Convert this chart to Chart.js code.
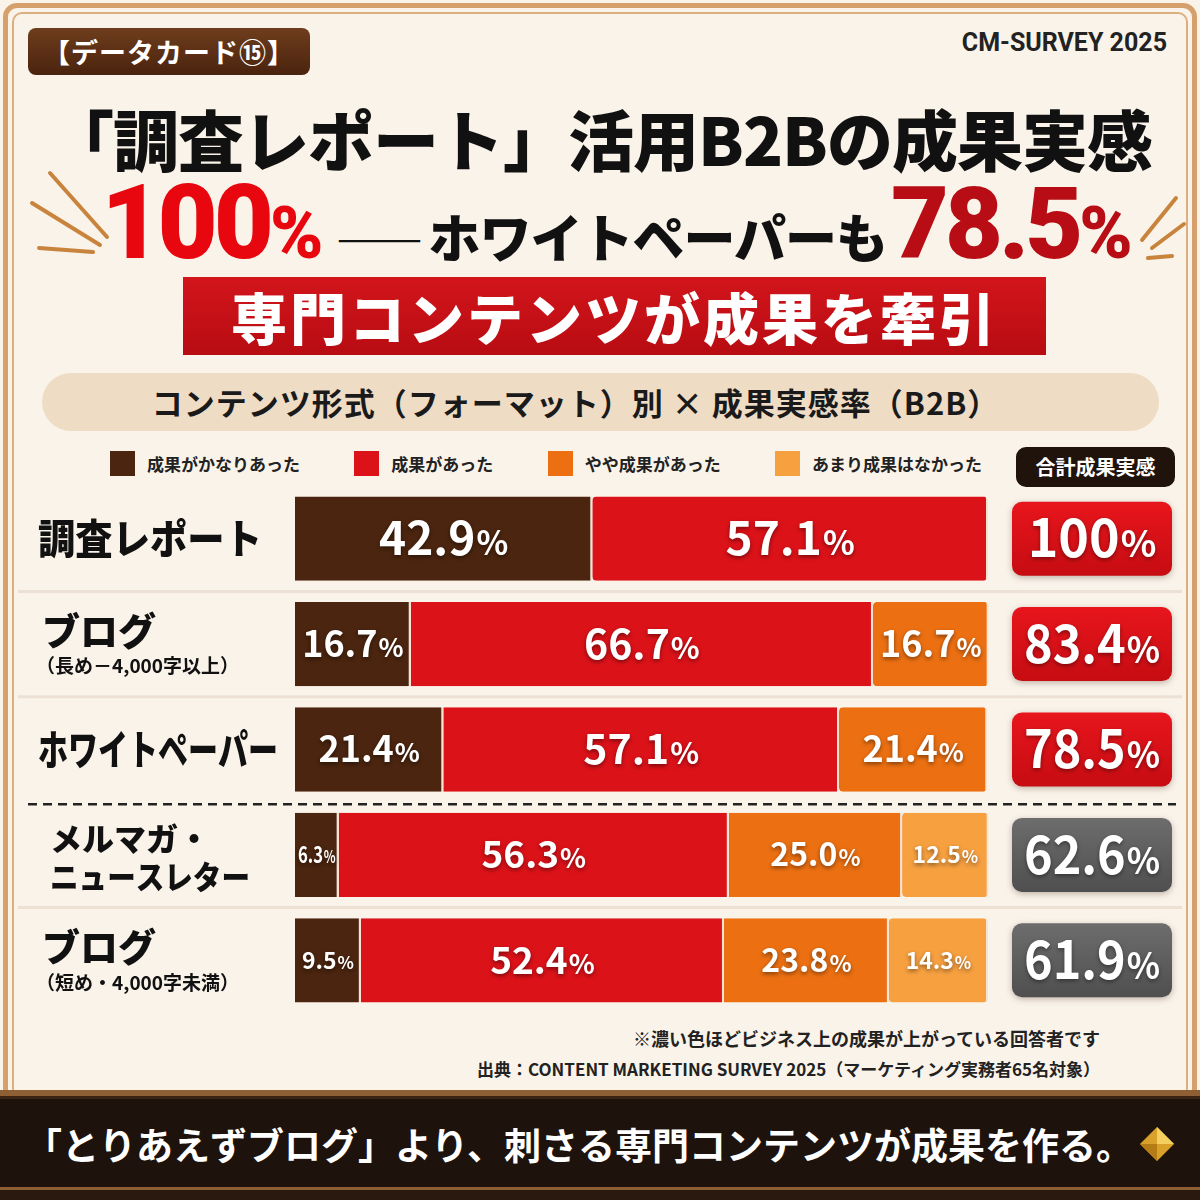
<!DOCTYPE html>
<html lang="ja">
<head>
  <meta charset="UTF-8">
  <title>「調査レポート」活用B2Bの成果実感</title>
  <style>
    body {
      margin: 0;
      width: 1200px;
      height: 1200px;
      position: relative;
      overflow: hidden;
      background: #faf3ea;
      font-family: "Noto Sans CJK JP", sans-serif;
      color: #111;
    }

    .frame {
      position: absolute;
      left: 3px; top: 3px; right: 3px; bottom: 3px;
      border: 5px solid #d6a06c;
      border-radius: 14px;
    }

    .frame-in {
      position: absolute;
      left: 12px; top: 12px; right: 12px; bottom: 12px;
      border: 2px solid #dcae80;
      border-radius: 10px;
    }

    .badge {
      position: absolute;
      left: 28px; top: 28px;
      width: 282px; height: 47px;
      background: linear-gradient(to bottom, #6e3d1d, #4a230e);
      border-radius: 8px;
      color: #fff;
      font-size: 27px;
      font-weight: 700;
      line-height: 47px;
      text-align: center;
      letter-spacing: 1px;
    }

    .brand {
      position: absolute;
      right: 33px; top: 28px;
      font-family: Roboto, sans-serif;
      font-size: 25px;
      font-weight: 700;
      color: #222;
    }

    .title1 {
      position: absolute;
      left: 0; right: 0; top: 101px;
      text-align: center;
      font-size: 66px;
      font-weight: 900;
      line-height: 72px;
      letter-spacing: -1px;
    }

    .title2 {
      position: absolute;
      left: 0; right: 0; top: 168px;
      height: 110px;
      padding-left: 34px;
      display: flex;
      justify-content: center;
      align-items: baseline;
      font-weight: 900;
      line-height: 110px;
    }

    .big {
      font-family: Roboto, sans-serif;
      font-size: 104px;
      letter-spacing: -4px;
      color: #e8070f;
    }

    .big.dark { color: #b80d14; font-size: 100px; }
    .big small { font-size: 72px; letter-spacing: 0; }

    .mid {
      font-size: 52px;
      margin: 0 4px 0 12px;
      letter-spacing: -1px;
    }

    .dash {
      font-size: 44px;
      margin-right: 6px;
    }

    .banner {
      position: absolute;
      left: 183px; top: 277px;
      width: 863px; height: 78px;
      background: linear-gradient(to bottom, #d2151b, #b70c12);
      color: #fff;
      font-size: 56px;
      font-weight: 900;
      line-height: 78px;
      text-align: center;
      letter-spacing: 3px;
    }

    .rays {
      position: absolute;
      left: 0; top: 0;
    }

    .subtitle {
      position: absolute;
      left: 42px; top: 373px;
      width: 1117px; height: 58px;
      padding-right: 50px;
      box-sizing: border-box;
      background: #efdcc4;
      border-radius: 29px;
      font-size: 31px;
      font-weight: 700;
      line-height: 58px;
      text-align: center;
      letter-spacing: 1px;
      color: #1a1a1a;
    }

    #legend {
      position: absolute;
      left: 110px; top: 451px;
      width: 872px;
      display: flex;
      justify-content: space-between;
    }

    .legend-item {
      display: flex;
      align-items: center;
      font-size: 17px;
      font-weight: 700;
      color: #222;
    }

    .legend-item span {
      display: inline-block;
      width: 25px; height: 25px;
      margin-right: 12px;
    }

    .total-head {
      position: absolute;
      left: 1016px; top: 447px;
      width: 159px; height: 40px;
      background: #1f130c;
      border-radius: 10px;
      color: #fff;
      font-size: 20px;
      font-weight: 700;
      line-height: 40px;
      text-align: center;
    }

    #chart {
      position: absolute;
      left: 0; top: 486px;
    }

    .note {
      position: absolute;
      right: 100px;
      text-align: right;
      font-weight: 700;
      color: #222;
    }

    .footer {
      position: absolute;
      left: 0; right: 0; top: 1090px; bottom: 0;
      background: #1d120c;
      border-top: 6px solid #8e5e34;
      box-shadow: inset 0 3px 0 #3b2414, inset 0 -10px 0 #2a190f, inset 0 -13px 0 #8e5e34;
      display: flex;
      justify-content: center;
      align-items: center;
      padding-bottom: 8px;
      box-sizing: border-box;
      color: #fff;
      font-size: 37px;
      font-weight: 700;
    }

    .footer svg { margin-left: 6px; }
  </style>
</head>
<body>
  <div class="frame"></div>
  <div class="frame-in"></div>

  <div class="badge">【データカード⑮】</div>
  <div class="brand">CM-SURVEY 2025</div>

  <div class="title1">「調査レポート」活用B2Bの成果実感</div>
  <div class="title2">
    <span class="big">100<small>%</small></span>
    <span class="mid"><span class="dash">——</span>ホワイトペーパーも</span>
    <span class="big dark">78.5<small>%</small></span>
  </div>

  <svg class="rays" width="1200" height="300">
    <g stroke="#c8843c" stroke-width="4" stroke-linecap="round">
      <line x1="50" y1="173" x2="107" y2="237" />
      <line x1="32" y1="203" x2="100" y2="245" />
      <line x1="39" y1="248" x2="93" y2="252" />
      <line x1="1176" y1="198" x2="1142" y2="240" />
      <line x1="1184" y1="224" x2="1152" y2="248" />
      <line x1="1148" y1="258" x2="1172" y2="256" />
    </g>
  </svg>

  <div class="banner">専門コンテンツが成果を牽引</div>

  <div class="subtitle">コンテンツ形式（フォーマット）別 × 成果実感率（B2B）</div>

  <div id="legend"></div>
  <div class="total-head">合計成果実感</div>

  <canvas id="chart" width="1200" height="527"></canvas>

  <div class="note" style="top: 1025px; font-size: 18px;">※濃い色ほどビジネス上の成果が上がっている回答者です</div>
  <div class="note" style="top: 1056px; font-size: 17px;">出典：CONTENT MARKETING SURVEY 2025（マーケティング実務者65名対象）</div>

  <div class="footer">
    「とりあえずブログ」より、刺さる専門コンテンツが成果を作る。
    <svg width="36" height="36" viewBox="0 0 36 36">
      <polygon points="18,1 35,18 18,35 1,18" fill="#d9a12a" />
      <polygon points="18,1 35,18 18,18" fill="#f3cf5e" />
      <polygon points="18,18 18,35 1,18" fill="#b57c16" />
    </svg>
  </div>

  <script src="https://cdn.jsdelivr.net/npm/chart.js"></script>
  <script>
    // コンテンツ形式
    const categoryLines = [['調査レポート'], ['ブログ'], ['ホワイトペーパー'], ['メルマガ・', 'ニュースレター'], ['ブログ']];
    const categoryNotes = ['', '（長め－4,000字以上）', '', '', '（短め・4,000字未満）'];

    // 回答の内訳 (%)
    const seriesNames = ['成果がかなりあった', '成果があった', 'やや成果があった', 'あまり成果はなかった'];
    const veryEffective = [42.9, 16.7, 21.4, 6.3, 9.5];
    const effective = [57.1, 66.7, 57.1, 56.3, 52.4];
    const somewhatEffective = [null, 16.7, 21.4, 25.0, 23.8];
    const notEffective = [null, null, null, 12.5, 14.3];

    // 合計成果実感 (%)
    const totalEffect = [100, 83.4, 78.5, 62.6, 61.9];

    const seriesColors = ['#4b250f', '#dc1219', '#ec7012', '#f6a040'];
    const FONT = '"Noto Sans CJK JP", sans-serif';

    // HTML legend
    const legend = document.getElementById('legend');
    seriesNames.forEach((name, i) => {
      const item = document.createElement('div');
      item.className = 'legend-item';
      const box = document.createElement('span');
      box.style.background = seriesColors[i];
      item.appendChild(box);
      item.appendChild(document.createTextNode(name));
      legend.appendChild(item);
    });

    // number + smaller "%" centred at (cx, cy)
    function drawPercent(ctx, text, cx, cy, size, maxW) {
      const pSize = Math.round(size * 0.72);
      ctx.font = `700 ${size}px ${FONT}`;
      const wNum = ctx.measureText(text).width;
      ctx.font = `700 ${pSize}px ${FONT}`;
      const wPct = ctx.measureText('%').width;
      const total = wNum + wPct + 1;
      const k = total > maxW ? maxW / total : 1;
      ctx.save();
      ctx.translate(cx, cy + size * 0.36);
      ctx.scale(k, 1);
      ctx.textAlign = 'left';
      ctx.textBaseline = 'alphabetic';
      ctx.font = `700 ${size}px ${FONT}`;
      ctx.fillText(text, -total / 2, 0);
      ctx.font = `700 ${pSize}px ${FONT}`;
      ctx.fillText('%', -total / 2 + wNum + 1, 0);
      ctx.restore();
    }

    const decorPlugin = {
      id: 'decor',
      beforeDatasetsDraw(chart) {
        const { ctx, scales: { y } } = chart;
        ctx.save();
        for (let i = 0; i < categoryLines.length - 1; i++) {
          const mid = (y.getPixelForValue(i) + y.getPixelForValue(i + 1)) / 2;
          ctx.beginPath();
          if (i === 2) {
            ctx.setLineDash([9, 6]);
            ctx.strokeStyle = '#222';
            ctx.lineWidth = 2.5;
            ctx.moveTo(28, mid + 2);
            ctx.lineTo(1176, mid + 2);
          } else {
            ctx.setLineDash([]);
            ctx.strokeStyle = 'rgba(170, 130, 95, 0.15)';
            ctx.lineWidth = 3;
            ctx.moveTo(18, mid);
            ctx.lineTo(1182, mid);
          }
          ctx.stroke();
        }
        ctx.restore();
      },
      afterDatasetsDraw(chart) {
        const { ctx, scales: { y } } = chart;

        // values inside the segments
        ctx.save();
        ctx.fillStyle = '#fff';
        ctx.shadowColor = 'rgba(0, 0, 0, 0.45)';
        ctx.shadowBlur = 4;
        ctx.shadowOffsetY = 2;
        chart.data.datasets.forEach((ds, di) => {
          chart.getDatasetMeta(di).data.forEach((bar, i) => {
            const v = ds.data[i];
            if (!v) return;
            const w = Math.abs(bar.x - bar.base);
            let size;
            if (i === 0) size = 46;
            else if (w < 110) size = 23;
            else if (w < 200) size = i < 3 ? 36 : 32;
            else size = i < 3 ? 41 : 37;
            drawPercent(ctx, v.toFixed(1), (bar.x + bar.base) / 2, bar.y, size, w - 6);
          });
        });
        ctx.restore();

        // category labels on the left
        ctx.save();
        ctx.fillStyle = '#111';
        ctx.textAlign = 'left';
        ctx.textBaseline = 'middle';
        categoryLines.forEach((lines, i) => {
          const cy = y.getPixelForValue(i);
          const note = categoryNotes[i];
          if (lines.length > 1) {
            ctx.font = `900 32px ${FONT}`;
            ctx.fillText(lines[0], 50, cy - 16, 200);
            ctx.fillText(lines[1], 50, cy + 22, 200);
          } else if (note) {
            ctx.font = `900 38px ${FONT}`;
            ctx.fillText(lines[0], 42, cy - 14, 228);
            ctx.font = `700 19px ${FONT}`;
            ctx.fillText(note, 36, cy + 22, 212);
          } else {
            ctx.font = `900 41px ${FONT}`;
            ctx.fillText(lines[0], 38, cy, lines[0].length > 6 ? 240 : 224);
          }
        });
        ctx.restore();

        // total boxes on the right
        ctx.save();
        totalEffect.forEach((v, i) => {
          const cy = y.getPixelForValue(i);
          const top = cy - 37;
          const g = ctx.createLinearGradient(0, top, 0, top + 74);
          if (i < 3) {
            g.addColorStop(0, '#e8151c');
            g.addColorStop(1, '#c60c12');
          } else {
            g.addColorStop(0, '#6d6d6d');
            g.addColorStop(1, '#4f4f4f');
          }
          ctx.shadowColor = 'rgba(60, 30, 10, 0.3)';
          ctx.shadowBlur = 6;
          ctx.shadowOffsetY = 2;
          ctx.fillStyle = g;
          ctx.beginPath();
          ctx.roundRect(1012, top, 160, 74, 10);
          ctx.fill();
          ctx.fillStyle = '#fff';
          ctx.shadowColor = 'rgba(0, 0, 0, 0.4)';
          ctx.shadowBlur = 4;
          const label = Number.isInteger(v) ? String(v) : v.toFixed(1);
          drawPercent(ctx, label, 1092, cy, 52, 136);
        });
        ctx.restore();
      }
    };

    const datasets = [veryEffective, effective, somewhatEffective, notEffective].map((data, i) => ({
      label: seriesNames[i],
      data: data,
      backgroundColor: seriesColors[i],
      borderColor: '#f7e3d3',
      borderWidth: { top: 0, bottom: 0, left: 0, right: 2 },
      borderSkipped: false,
      borderRadius: 4,
      categoryPercentage: 1,
      barPercentage: 0.8,
      clip: false
    }));

    new Chart(document.getElementById('chart').getContext('2d'), {
      type: 'bar',
      data: {
        labels: categoryLines.map(l => l.join('')),
        datasets: datasets
      },
      options: {
        indexAxis: 'y',
        responsive: false,
        animation: false,
        layout: { padding: { left: 295, right: 212, top: 0, bottom: 0 } },
        scales: {
          x: { display: false, stacked: true, min: 0, max: 100 },
          y: { display: false, stacked: true }
        },
        plugins: {
          legend: { display: false },
          tooltip: { enabled: false }
        }
      },
      plugins: [decorPlugin]
    });
  </script>
</body>
</html>
